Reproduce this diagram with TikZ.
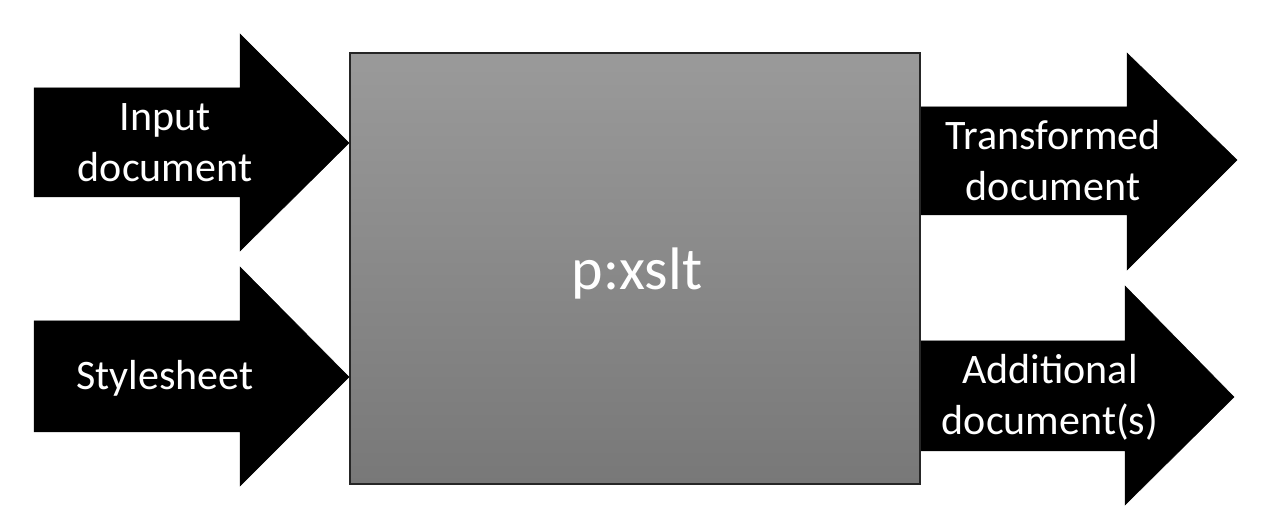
\documentclass[tikz,border=0pt]{standalone}
\usepackage{fontspec}
\setmainfont{Carlito}
\definecolor{boxtop}{HTML}{9A9A9A}
\definecolor{boxbot}{HTML}{787878}
\tikzset{
  bigarrow/.style={fill=black, draw=black, line width=0.5pt},
  arrowlabel/.style={text=white, align=center, inner sep=0pt, font=\fontsize{42}{51}\selectfont},
  procbox/.style={draw=black!85, line width=1.5pt, top color=boxtop, bottom color=boxbot,
    minimum width=570pt, minimum height=431pt, inner sep=0pt},
  proclabel/.style={text=white, inner sep=0pt, font=\fontsize{60}{66}\selectfont}
}
\begin{document}
\begin{tikzpicture}[x=1pt,y=1pt]
\useasboundingbox (0,0) rectangle (1280,519);
% input arrows
\draw[bigarrow] (34,431) -- (240,431) -- (240,485) -- (349,376) -- (240,268) -- (240,322) -- (34,322) -- cycle;
\draw[bigarrow] (34,198) -- (240,198) -- (240,252) -- (349,142) -- (240,33) -- (240,87) -- (34,87) -- cycle;
% output arrows
\draw[bigarrow] (921,412) -- (1127,412) -- (1127,466) -- (1237,359) -- (1127,249) -- (1127,304) -- (921,304) -- cycle;
\draw[bigarrow] (921,178) -- (1125,178) -- (1125,233) -- (1234,122) -- (1125,14) -- (1125,68) -- (921,68) -- cycle;
% box
\node[procbox] (xslt) at (635,250.5) {};
\node[proclabel, anchor=base] (xsltlabel) at (637,229) {p:xslt};
% labels
\node[arrowlabel] (in) at (165,376) {Input\\document};
\node[arrowlabel] (ss) at (165,141) {Stylesheet};
\node[arrowlabel] (out) at (1053,358) {Transformed\\document};
\node[arrowlabel] (add) at (1050,122) {Additional\\document(s)};
\end{tikzpicture}
\end{document}
